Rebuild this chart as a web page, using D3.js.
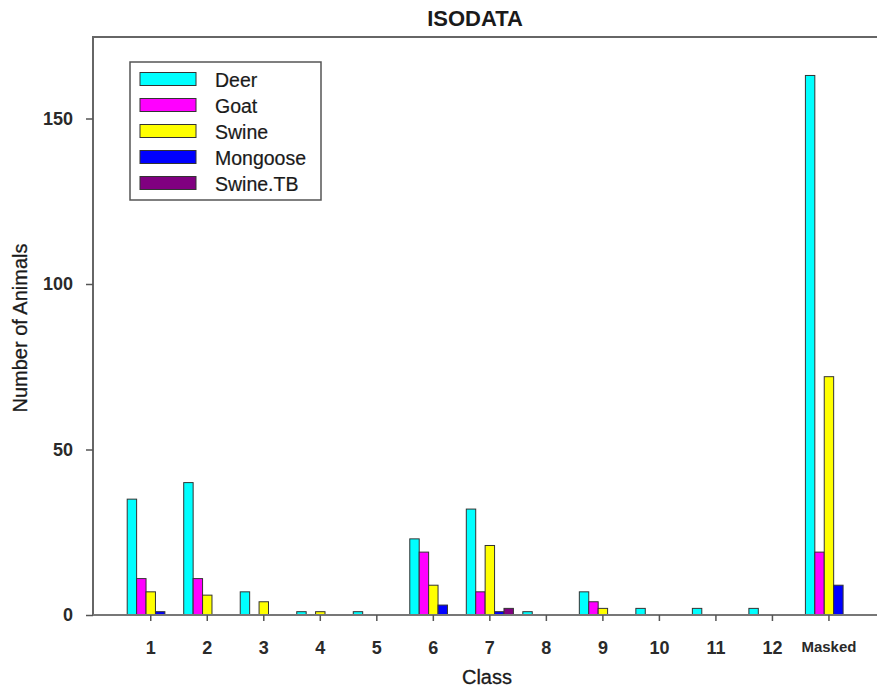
<!DOCTYPE html>
<head>
<meta charset="utf-8">
<title>ISODATA</title>
<script src="https://cdn.jsdelivr.net/npm/d3@7/dist/d3.min.js"></script>
<style>
	body { margin: 0; background: #fff; }
	text { font-family: "Liberation Sans", Arial, sans-serif; fill: #1a1a1a; }
	.axis text { font-size: 18px; font-weight: bold; fill: #2a2a2a; }
	.axis path, .axis line { fill: none; stroke: #555; stroke-width: 1.5; }
</style>
</head>
<body>
<script>
var width = 877;
var height = 691;

// data
var classes = ["1", "2", "3", "4", "5", "6", "7", "8", "9", "10", "11", "12", "Masked"];
var species = ["Deer", "Goat", "Swine", "Mongoose", "Swine.TB"];
var deer     = [35, 40, 7, 1, 1, 23, 32, 1, 7, 2, 2, 2, 163];
var goat     = [11, 11, 0, 0, 0, 19, 7, 0, 4, 0, 0, 0, 19];
var swine    = [7, 6, 4, 1, 0, 9, 21, 0, 2, 0, 0, 0, 72];
var mongoose = [1, 0, 0, 0, 0, 3, 1, 0, 0, 0, 0, 0, 9];
var swineTB  = [0, 0, 0, 0, 0, 0, 2, 0, 0, 0, 0, 0, 0];
var colors = ["#00ffff", "#ff00ff", "#ffff00", "#0000ff", "#800080"];
var yTicks = [0, 50, 100, 150];

var seriesVals = [deer, goat, swine, mongoose, swineTB];
var rows = [];
classes.forEach(function(c, i) {
	species.forEach(function(s, j) {
		rows.push({cls: c, sp: s, v: seriesVals[j][i], col: colors[j]});
	});
});

var box = {left: 93, top: 37, right: 880, bottom: 615};

var svg = d3.select("body").append("svg")
	.attr("width", width)
	.attr("height", height);

// scales
var x = d3.scaleBand().domain(classes).range([127.2, 852.5]).paddingInner(1/6).paddingOuter(0);
var xs = d3.scaleBand().domain(species).range([0, x.bandwidth()]).padding(0);
var y = d3.scaleLinear().domain([0, 150]).range([615, 118.5]);

// bars
svg.selectAll("rect.bar").data(rows.filter(function(d) { return d.v > 0; })).enter()
	.append("rect")
	.attr("class", "bar")
	.attr("x", function(d) { return x(d.cls) + xs(d.sp); })
	.attr("y", function(d) { return y(d.v); })
	.attr("width", xs.bandwidth())
	.attr("height", function(d) { return y(0) - y(d.v); })
	.style("fill", function(d) { return d.col; })
	.style("stroke", "#333")
	.style("stroke-width", 1);

// box
svg.append("path")
	.attr("d", "M" + box.left + "," + box.bottom + "V" + box.top + "H" + box.right)
	.style("fill", "none").style("stroke", "#666").style("stroke-width", 2);
svg.append("line")
	.attr("x1", box.left).attr("x2", box.right)
	.attr("y1", box.bottom).attr("y2", box.bottom)
	.style("stroke", "#777").style("stroke-width", 2);

// axes
var yAxis = svg.append("g").attr("class", "axis")
	.attr("transform", "translate(" + box.left + ",0)")
	.call(d3.axisLeft(y).tickValues(yTicks).tickSize(7).tickPadding(13));
yAxis.select(".domain").remove();

var xAxis = svg.append("g").attr("class", "axis")
	.attr("transform", "translate(0," + box.bottom + ")")
	.call(d3.axisBottom(x).tickSize(6).tickPadding(20));
xAxis.select(".domain").remove();
xAxis.selectAll("text").filter(function(d) { return d == "Masked"; })
	.style("font-size", "15px");

// titles
svg.append("text")
	.attr("x", 475).attr("y", 26)
	.attr("text-anchor", "middle")
	.style("font-size", "22px").style("font-weight", "bold")
	.text("ISODATA");
svg.append("text")
	.attr("x", 487).attr("y", 684)
	.attr("text-anchor", "middle")
	.style("font-size", "20px")
	.style("stroke", "#1a1a1a").style("stroke-width", 0.3)
	.text("Class");
svg.append("text")
	.attr("transform", "translate(27,328) rotate(-90)")
	.attr("text-anchor", "middle")
	.style("font-size", "20px")
	.style("stroke", "#1a1a1a").style("stroke-width", 0.3)
	.text("Number of Animals");

// legend
var lg = svg.append("g").attr("transform", "translate(130,62)");
lg.append("rect")
	.attr("width", 191).attr("height", 138)
	.style("fill", "#fff").style("stroke", "#555").style("stroke-width", 1.5);
var items = lg.selectAll("g.item").data(species).enter()
	.append("g").attr("class", "item")
	.attr("transform", function(d, i) { return "translate(0," + (17.5 + i * 26) + ")"; });
items.append("rect")
	.attr("x", 10).attr("y", -7)
	.attr("width", 56).attr("height", 13)
	.style("fill", function(d, i) { return colors[i]; })
	.style("stroke", "#333").style("stroke-width", 1);
items.append("text")
	.attr("x", 85).attr("y", 7)
	.style("font-size", "19.5px")
	.style("stroke", "#1a1a1a").style("stroke-width", 0.2)
	.text(function(d) { return d; });
</script>
</body>
